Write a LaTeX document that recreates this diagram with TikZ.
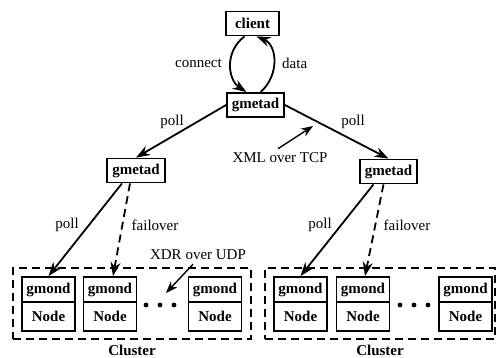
\documentclass[tikz,border=0pt]{standalone}
\usepackage{fontspec}
\setmainfont{Liberation Serif}
\usetikzlibrary{arrows.meta}

\begin{document}
\begin{tikzpicture}[x=1pt, y=-1pt, >={Stealth[length=14pt,width=10pt]}, line width=1.8pt,
    font=\fontsize{15}{17}\selectfont,
    daemon/.style={draw, font=\fontsize{15}{17}\selectfont\bfseries, minimum height=24pt, inner sep=0pt},
    gmond/.style={draw, font=\fontsize{15}{17}\selectfont\bfseries, minimum width=53pt, minimum height=25pt, inner sep=0pt},
    host/.style={draw, font=\fontsize{15}{17}\selectfont\bfseries, minimum width=53pt, minimum height=29pt, inner sep=0pt},
    cluster/.style={draw, dash pattern=on 8pt off 5pt, minimum height=71pt, inner sep=0pt},
    faildash/.style={dash pattern=on 8pt off 5pt}]
  % x, y in px of a 498 x 358 frame, y pointing down
  \useasboundingbox (0,0) rectangle (498,358);

  % client and the gmetad tree
  \node[daemon, minimum width=53pt] (client) at (252.5,23.5) {client};
  \node[daemon, minimum width=57pt] (top) at (255.5,105) {gmetad};
  \node[daemon, minimum width=58pt] (lg) at (136,170.5) {gmetad};
  \node[daemon, minimum width=57pt] (rg) at (388.5,171.5) {gmetad};

  % connect / data loop
  \draw[->] ([xshift=-8pt]client.south) .. controls (224,52) and (228,80) .. ([xshift=-9pt]top.north);
  \draw[->] ([xshift=5pt]top.north) .. controls (280,75) and (277,45) .. ([xshift=4pt]client.south);
  \node[anchor=east] (connlbl) at (226,63) {connect};
  \node[anchor=west] (datalbl) at (278,63) {data};

  % clusters
  \node[cluster, minimum width=238pt] (c1) at (132,303.5) {};
  \node[cluster, minimum width=230pt] (c2) at (380,303.5) {};
  \node[font=\fontsize{15}{17}\selectfont\bfseries] (c1lbl) at (132,350) {Cluster};
  \node[font=\fontsize{15}{17}\selectfont\bfseries] (c2lbl) at (380,350) {Cluster};

  % gmond on each node
  \foreach \n/\x in {11/48.5, 12/110, 13/215, 21/300.5, 22/363, 23/465.5} {
    \node[gmond] (g\n) at (\x,289.5) {gmond};
    \node[host] (h\n) at (\x,316.5) {Node};
  }
  \foreach \x in {146,160,174,400,414,428}
    \fill (\x,305) circle (2.4pt);

  % polling
  \draw[->] (top.west) -- (lg.north);
  \draw[->] (top.east) -- (rg.north);
  \node (poll1) at (172,122) {poll};
  \node (poll2) at (353,122) {poll};

  \draw[->] ([xshift=-14pt]lg.south) -- (g11.north);
  \draw[->, faildash] ([xshift=-6pt]lg.south) -- ([xshift=3pt]g12.north);
  \draw[->] ([xshift=-15pt]rg.south) -- (g21.north);
  \draw[->, faildash] ([xshift=-5pt]rg.south) -- ([xshift=2pt]g22.north);
  \node (poll3) at (67,225) {poll};
  \node (fail1) at (155,225) {failover};
  \node (poll4) at (320,225) {poll};
  \node (fail2) at (407,225) {failover};

  % protocols
  \node (xml) at (280,158) {XML over TCP};
  \coordinate (xmltip) at (313,126);
  \draw[->, line width=1.4pt, >={Stealth[length=12pt,width=9pt]}] ([xshift=-2pt]xml.north) -- (xmltip);
  \node (xdr) at (198,255) {XDR over UDP};
  \coordinate (xdrtip) at (166,293);
  \draw[->, line width=1.4pt, >={Stealth[length=12pt,width=9pt]}] ([xshift=-5pt]xdr.south) -- (xdrtip);
\end{tikzpicture}
\end{document}
